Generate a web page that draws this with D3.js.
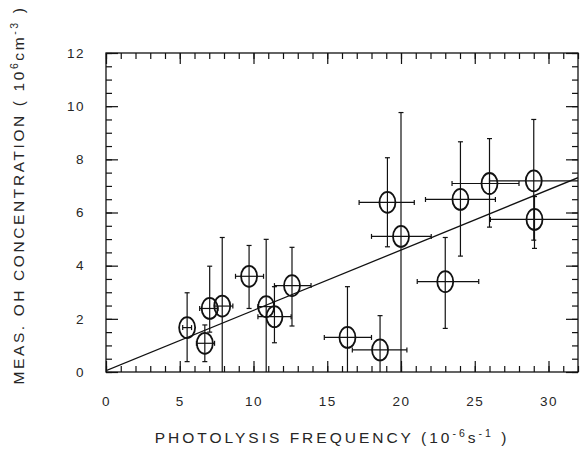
<!DOCTYPE html>
<html>
<head>
<meta charset="utf-8">
<script src="https://cdn.jsdelivr.net/npm/d3@7"></script>
<style>
  body { margin: 0; background: #fff; }
  svg { display: block; }
  text { font-family: "Liberation Sans", Arial, sans-serif; fill: #262626; }
</style>
</head>
<body>
<svg id="chart" width="580" height="464"></svg>
<script>
// ---- data ----
const freq    = [5.5, 6.7, 7.03, 7.88, 9.7, 10.86, 11.42, 12.61, 16.37, 18.58, 19.08, 20.0, 23.0, 24.03, 26.0, 29.0, 29.05];
const ohConc  = [1.67, 1.08, 2.39, 2.48, 3.6, 2.46, 2.08, 3.25, 1.3, 0.83, 6.38, 5.1, 3.4, 6.49, 7.09, 7.19, 5.74];
const freqLo  = [5.2, 6.13, 6.35, 7.36, 8.78, 10.3, 10.3, 11.42, 14.8, 16.7, 17.16, 18.0, 21.1, 21.66, 23.46, 26.0, 26.06];
const freqHi  = [5.8, 7.36, 7.59, 8.6, 10.68, 11.4, 12.55, 13.9, 18.0, 20.4, 20.9, 22.05, 25.27, 26.4, 28.0, 32.0, 32.0];
const concLo  = [0.39, 0.39, 1.5, 0.0, 2.39, 0.0, 1.1, 1.73, 0.0, 0.0, 4.71, 0.0, 1.64, 4.36, 5.45, 4.96, 4.65];
const concHi  = [2.98, 1.77, 3.98, 5.06, 4.76, 4.99, 3.21, 4.69, 3.21, 2.12, 8.06, 9.76, 5.06, 8.66, 8.78, 9.5, 6.6];
const fitFreq = [0, 32];
const fitConc = [0.05, 7.31];
const xTickLabels = [0, 5, 10, 15, 20, 25, 30];
const yTickLabels = [0, 2, 4, 6, 8, 10, 12];

// ---- layout ----
const svg = d3.select("#chart");
const L = 106, R = 578, T = 53, B = 372;
const x = d3.scaleLinear().domain([0, 32]).range([L, R]);
const y = d3.scaleLinear().domain([0, 12]).range([B, T]);

const ink = "#111";

// frame
svg.append("rect").attr("x", L).attr("y", T).attr("width", R - L).attr("height", B - T)
  .attr("fill", "none").attr("stroke", ink).attr("stroke-width", 1.3);

const xMinor = d3.range(0, 33, 1);
const xMajor = d3.range(0, 33, 5);
const yMinor = d3.range(0, 12.01, 0.5);
const yMajor = d3.range(0, 13, 2);

function tickLayer(axis, tx, ty) {
  const g = svg.append("g").attr("transform", `translate(${tx},${ty})`).call(axis);
  g.select(".domain").remove();
  g.selectAll("text").remove();
  g.selectAll("line").attr("stroke", ink).attr("stroke-width", 1.2);
  return g;
}
// bottom (ticks pointing up)
tickLayer(d3.axisTop(x).tickValues(xMinor).tickSize(6), 0, B);
tickLayer(d3.axisTop(x).tickValues(xMajor).tickSize(11), 0, B);
// top (ticks pointing down)
tickLayer(d3.axisBottom(x).tickValues(xMinor).tickSize(6), 0, T);
tickLayer(d3.axisBottom(x).tickValues(xMajor).tickSize(11), 0, T);
// left (ticks pointing right)
tickLayer(d3.axisRight(y).tickValues(yMinor).tickSize(6), L, 0);
tickLayer(d3.axisRight(y).tickValues(yMajor).tickSize(12), L, 0);
// right (ticks pointing left)
tickLayer(d3.axisLeft(y).tickValues(yMinor).tickSize(6), R, 0);
tickLayer(d3.axisLeft(y).tickValues(yMajor).tickSize(12), R, 0);

// tick labels
const xl = svg.append("g").attr("transform", `translate(0,${B})`)
  .call(d3.axisBottom(x).tickValues(xTickLabels).tickSize(0).tickPadding(24));
xl.select(".domain").remove();
xl.selectAll("text").attr("font-size", 13.5).attr("letter-spacing", "1.5px")
  .style("font-family", "'Liberation Sans', Arial, sans-serif").attr("fill", "#262626");

const yl = svg.append("g").attr("transform", `translate(${L},0)`)
  .call(d3.axisLeft(y).tickValues(yTickLabels).tickSize(0).tickPadding(21));
yl.select(".domain").remove();
yl.selectAll("text").attr("font-size", 13.5).attr("letter-spacing", "1.5px")
  .style("font-family", "'Liberation Sans', Arial, sans-serif").attr("fill", "#262626");

// axis titles
const xt = svg.append("text").attr("x", 332).attr("y", 443).attr("text-anchor", "middle")
  .attr("font-size", 15.5).attr("letter-spacing", "3px");
xt.append("tspan").text("PHOTOLYSIS  FREQUENCY  (10");
xt.append("tspan").attr("baseline-shift", "super").attr("font-size", 10.5).text("-6");
xt.append("tspan").text("s");
xt.append("tspan").attr("baseline-shift", "super").attr("font-size", 10.5).text("-1");
xt.append("tspan").text(" )");

const yt = svg.append("text").attr("transform", "translate(24,195) rotate(-90)")
  .attr("text-anchor", "middle").attr("font-size", 15.5).attr("letter-spacing", "2.6px");
yt.append("tspan").text("MEAS.  OH  CONCENTRATION  ( 10");
yt.append("tspan").attr("baseline-shift", "super").attr("font-size", 10.5).text("6");
yt.append("tspan").text("cm");
yt.append("tspan").attr("baseline-shift", "super").attr("font-size", 10.5).text("-3");
yt.append("tspan").text(" )");

// clip
svg.append("clipPath").attr("id", "plotclip").append("rect")
  .attr("x", L).attr("y", T).attr("width", R - L).attr("height", B - T);
const plot = svg.append("g").attr("clip-path", "url(#plotclip)");

// regression line
plot.append("path")
  .datum(fitFreq.map((f, i) => [f, fitConc[i]]))
  .attr("d", d3.line().x(d => x(d[0])).y(d => y(d[1])))
  .attr("fill", "none").attr("stroke", ink).attr("stroke-width", 1.3);

// error bars
const pts = freq.map((f, i) => ({ f, c: ohConc[i], fl: freqLo[i], fh: freqHi[i], cl: concLo[i], ch: concHi[i] }));
const cap = 2.5;
const eb = plot.append("g").attr("stroke", ink).attr("stroke-width", 1.2);
pts.forEach(p => {
  eb.append("line").attr("x1", x(p.f)).attr("x2", x(p.f)).attr("y1", y(p.cl)).attr("y2", y(p.ch));
  eb.append("line").attr("x1", x(p.fl)).attr("x2", x(p.fh)).attr("y1", y(p.c)).attr("y2", y(p.c));
  if (p.ch < 12) eb.append("line").attr("x1", x(p.f) - cap).attr("x2", x(p.f) + cap).attr("y1", y(p.ch)).attr("y2", y(p.ch));
  if (p.cl > 0) eb.append("line").attr("x1", x(p.f) - cap).attr("x2", x(p.f) + cap).attr("y1", y(p.cl)).attr("y2", y(p.cl));
  if (p.fh < 32) eb.append("line").attr("x1", x(p.fh)).attr("x2", x(p.fh)).attr("y1", y(p.c) - cap).attr("y2", y(p.c) + cap);
  eb.append("line").attr("x1", x(p.fl)).attr("x2", x(p.fl)).attr("y1", y(p.c) - cap).attr("y2", y(p.c) + cap);
});

// ellipse markers
plot.append("g").selectAll("ellipse").data(pts).join("ellipse")
  .attr("cx", d => x(d.f)).attr("cy", d => y(d.c))
  .attr("rx", 8).attr("ry", 10.5)
  .attr("fill", "none").attr("stroke", ink).attr("stroke-width", 1.8);
</script>
</body>
</html>
